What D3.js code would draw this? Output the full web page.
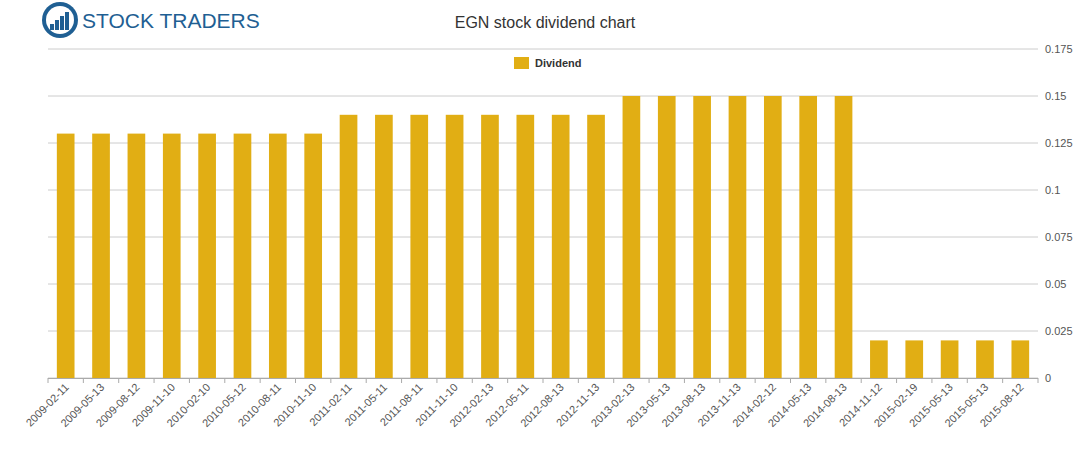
<!DOCTYPE html>
<html><head><meta charset="utf-8">
<script src="https://cdn.jsdelivr.net/npm/d3@7"></script>
<style>body{margin:0;background:#fff}</style></head>
<body><svg id="c" width="1091" height="450"></svg>
<script>
const categories=["2009-02-11","2009-05-13","2009-08-12","2009-11-10","2010-02-10","2010-05-12","2010-08-11","2010-11-10","2011-02-11","2011-05-11","2011-08-11","2011-11-10","2012-02-13","2012-05-11","2012-08-13","2012-11-13","2013-02-13","2013-05-13","2013-08-13","2013-11-13","2014-02-12","2014-05-13","2014-08-13","2014-11-12","2015-02-19","2015-05-13","2015-05-13 ","2015-08-12"];
const dividend=[0.13,0.13,0.13,0.13,0.13,0.13,0.13,0.13,0.14,0.14,0.14,0.14,0.14,0.14,0.14,0.14,0.15,0.15,0.15,0.15,0.15,0.15,0.15,0.02,0.02,0.02,0.02,0.02];
const yTicks=[0,0.025,0.05,0.075,0.1,0.125,0.15,0.175];
const tickLabels=["0","0.025","0.05","0.075","0.1","0.125","0.15","0.175"];
const svg=d3.select("#c"),font="Liberation Sans, Arial, sans-serif";
const L=48,R=1038,T=49,B=378;
const x=d3.scaleBand().domain(categories).range([L,R]).paddingInner(0.5).paddingOuter(0.25);
const y=d3.scaleLinear().domain([0,0.175]).range([B,T]);
svg.append("g").selectAll("line").data(yTicks).join("line")
 .attr("x1",L).attr("x2",R).attr("y1",d=>y(d)).attr("y2",d=>y(d)).attr("stroke","#ccc");
svg.append("g").selectAll("text").data(yTicks).join("text")
 .attr("x",R+7).attr("y",d=>y(d)+4).attr("font-family",font).attr("font-size",11).attr("fill","#555")
 .text((d,i)=>tickLabels[i]);
svg.append("g").selectAll("rect").data(dividend).join("rect")
 .attr("x",(d,i)=>x(categories[i])).attr("width",x.bandwidth())
 .attr("y",d=>y(d)).attr("height",d=>B-y(d)).attr("fill","#e1ae14");
const step=x.step();
svg.append("line").attr("x1",L).attr("x2",R).attr("y1",B+0.5).attr("y2",B+0.5).attr("stroke","#aaa");
categories.forEach((c,i)=>{
 const cx=L+step*i; svg.append("line").attr("x1",cx).attr("x2",cx).attr("y1",B).attr("y2",B+5).attr("stroke","#aaa");
 const px=x(c)+x.bandwidth()/2;
 svg.append("text").attr("transform",`translate(${px+4},${B+10}) rotate(-45)`).attr("text-anchor","end")
  .attr("font-family",font).attr("font-size",11).attr("fill","#555").text(c.trim());
});
svg.append("line").attr("x1",R).attr("x2",R).attr("y1",B).attr("y2",B+5).attr("stroke","#aaa");
svg.append("text").attr("x",545).attr("y",28).attr("text-anchor","middle").attr("font-family",font).attr("font-size",16).attr("fill","#333").text("EGN stock dividend chart");
svg.append("rect").attr("x",514).attr("y",57).attr("width",15).attr("height",12).attr("fill","#e1ae14");
svg.append("text").attr("x",535).attr("y",67).attr("font-family",font).attr("font-size",11).attr("font-weight","bold").attr("fill","#333").text("Dividend");
// logo
svg.append("circle").attr("cx",60).attr("cy",20).attr("r",18).attr("fill","#1f5f93");
svg.append("circle").attr("cx",60).attr("cy",20).attr("r",14).attr("fill","#fff");
[[50,6],[55,10],[60,14],[65,18]].forEach(([bx,h])=>svg.append("rect").attr("x",bx).attr("y",30-h).attr("width",4).attr("height",h).attr("fill","#1f5f93"));
svg.append("text").attr("x",82).attr("y",28).attr("font-family",font).attr("font-size",21).attr("fill","#1f5f93").text("STOCK TRADERS");
</script></body></html>
